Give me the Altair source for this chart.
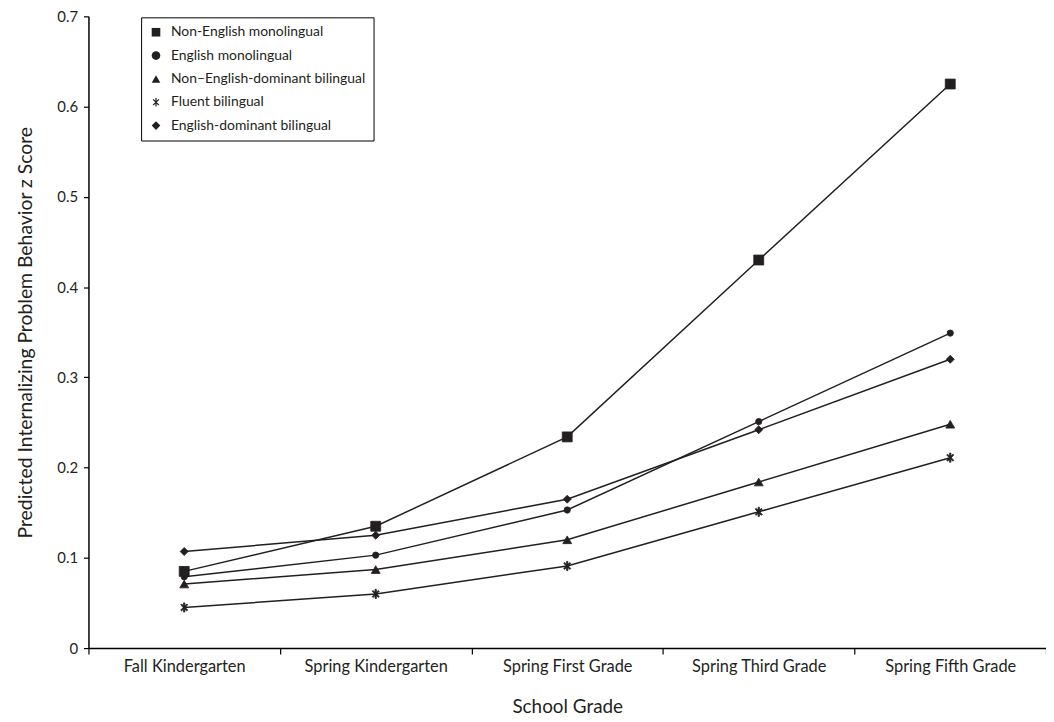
import altair as alt
import pandas as pd

grades = ["Fall Kindergarten", "Spring Kindergarten", "Spring First Grade",
          "Spring Third Grade", "Spring Fifth Grade"]
series = ["Non-English monolingual", "English monolingual",
          "Non\u2013English-dominant bilingual", "Fluent bilingual",
          "English-dominant bilingual"]

non_english_mono = [0.085, 0.135, 0.234, 0.430, 0.625]
english_mono = [0.079, 0.103, 0.153, 0.251, 0.349]
non_english_dom_bi = [0.071, 0.087, 0.120, 0.184, 0.248]
fluent_bi = [0.045, 0.060, 0.091, 0.151, 0.211]
english_dom_bi = [0.107, 0.125, 0.165, 0.242, 0.320]

values = [non_english_mono, english_mono, non_english_dom_bi, fluent_bi, english_dom_bi]

# asterisk glyph drawn as three thin filled bars (vertical + two diagonals)
asterisk = ("M0.14,-1L-0.14,-1L-0.14,1L0.14,1Z"
            "M-0.57,-0.77L-0.77,-0.57L0.57,0.77L0.77,0.57Z"
            "M-0.77,0.57L-0.57,0.77L0.77,-0.57L0.57,-0.77Z")
shapes = ["square", "circle", "triangle-up", asterisk, "diamond"]
marker_sizes = [100, 40, 80, 85, 65]

rows = []
for s, vals, sz in zip(series, values, marker_sizes):
    for g, v in zip(grades, vals):
        rows.append({"grade": g, "group": s, "value": v, "sz": sz})
df = pd.DataFrame(rows)

FONT = "Lato"
INK = "#231f20"

x = alt.X("grade:N", sort=grades, title="School Grade",
          scale=alt.Scale(paddingInner=0, paddingOuter=0),
          axis=alt.Axis(labelAngle=0, domainColor="black", tickColor="black",
                        tickSize=6, labelFontSize=16.5, labelFont=FONT,
                        labelColor=INK, labelPadding=5,
                        titleFontSize=19, titleFont=FONT, titleFontWeight="normal",
                        titleColor=INK, titlePadding=22,
                        tickBand="extent", domainWidth=1.5, tickWidth=1.2))
y = alt.Y("value:Q", title="Predicted Internalizing Problem Behavior z Score",
          scale=alt.Scale(domain=[0, 0.7], nice=False),
          axis=alt.Axis(values=[0, 0.1, 0.2, 0.3, 0.4, 0.5, 0.6, 0.7], format="~g",
                        grid=False, domainColor="black", tickColor="black",
                        tickSize=5, labelFontSize=15, labelFont=FONT,
                        labelColor=INK, labelPadding=6,
                        titleFontSize=19.5, titleFont=FONT, titleFontWeight="normal",
                        titleColor=INK, titlePadding=21,
                        domainWidth=1.5, tickWidth=1.2))

lines = alt.Chart(df).mark_line(color=INK, strokeWidth=1.5).encode(
    x=x, y=y, detail="group:N"
)

points = alt.Chart(df).mark_point(filled=True, fill=INK, stroke=INK,
                                  strokeWidth=0.8, opacity=1).encode(
    x=x, y=y,
    size=alt.Size("sz:Q", scale=None),
    shape=alt.Shape("group:N", scale=alt.Scale(domain=series, range=shapes),
                    legend=alt.Legend(title=None, orient="none", legendX=53, legendY=1,
                                      strokeColor="black", padding=8, rowPadding=9.5,
                                      labelFontSize=14, labelFont=FONT,
                                      labelColor=INK, labelLimit=400,
                                      symbolFillColor=INK, symbolStrokeColor=INK,
                                      symbolStrokeWidth=0.8, symbolSize=75,
                                      symbolOpacity=1, labelOffset=8)),
)

chart = alt.layer(lines, points).properties(
    width=964, height=636,
    autosize=alt.AutoSizeParams(type="none"),
    padding={"left": 81, "top": 6, "right": 0, "bottom": 70},
    background="white",
).configure_view(stroke=None).configure_axis(grid=False)

chart.save("out.html", embed_options={"renderer": "svg", "actions": False})
